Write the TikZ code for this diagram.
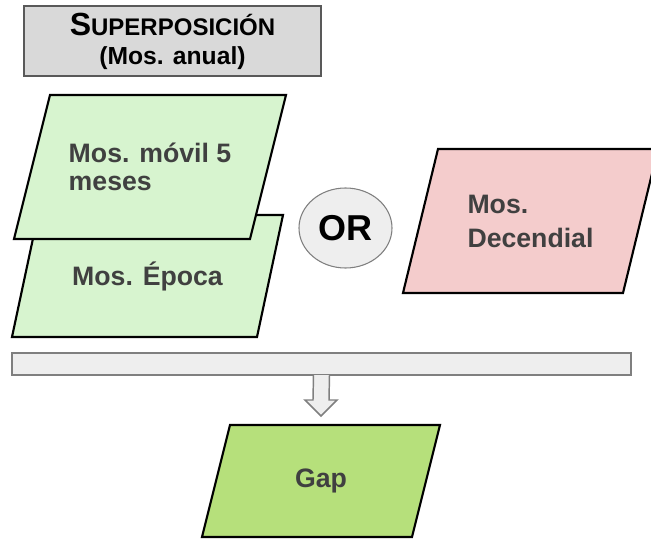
\documentclass[tikz,border=0pt]{standalone}
\usepackage{fontspec}
\setmainfont{Liberation Sans}
\usetikzlibrary{shapes.geometric,backgrounds}
\definecolor{titlegray}{HTML}{D9D9D9}
\definecolor{bargray}{HTML}{EEEEEE}
\definecolor{edgegray}{HTML}{7F7F7F}
\definecolor{txtgray}{HTML}{404040}
\definecolor{lightgreen}{HTML}{D7F4CF}
\definecolor{gapgreen}{HTML}{B6E07B}
\definecolor{lightpink}{HTML}{F4CCCC}
\tikzset{
    parabox/.style={rectangle, outer sep=0pt, inner sep=0pt, text=txtgray, align=left,
        font=\bfseries\fontsize{20}{21.5}\selectfont},
    paraline/.style={draw=black, line width=1.6pt, line join=miter},
    blockarrow/.style={draw=edgegray, fill=bargray, line width=1.1pt, line join=miter}
}
% parallelogram round a named box: name, slant, fill
\newcommand\ParaFrame[3]{
    \draw[paraline, fill=#3] ([xshift=#2]#1.north west) -- (#1.north east)
        -- ([xshift=-#2]#1.south east) -- (#1.south west) -- cycle;
}
\begin{document}
\begin{tikzpicture}[x=0.75pt, y=-0.75pt]
    \useasboundingbox (0,0) rectangle (651,539);
    % title box
    \node (title) [draw=black!65, fill=titlegray, line width=1.5pt, outer sep=0pt,
        minimum width=222.75pt, minimum height=52.5pt, align=center, font=\bfseries]
        at (172.5,41)
        {{\fontsize{24}{24}\selectfont S}{\fontsize{18}{18}\selectfont UPERPOSICIÓN}\\[7pt]
         {\fontsize{18.5}{18.5}\selectfont (Mos. anual)}};
    % stacked inputs
    \node (epoca) [parabox, minimum width=203.25pt, minimum height=91.5pt]
        at (147.5,276) {Mos. Época};
    \node (movil) [parabox, minimum width=204pt, minimum height=108pt]
        at (150,167) {Mos. móvil 5\\meses};
    \node (or) [ellipse, draw=edgegray, fill=bargray, line width=0.8pt,
        minimum width=69.75pt, minimum height=60pt, inner sep=0pt,
        font=\bfseries\fontsize{27}{27}\selectfont] at (345.5,228) {OR};
    \node (decendial) [parabox, minimum width=191.25pt, minimum height=108pt,
        font=\bfseries\fontsize{20}{25.5}\selectfont] at (530.5,221) {Mos.\\Decendial};
    % merge bar and result
    \node (bar) [draw=edgegray, fill=bargray, line width=1.1pt, outer sep=0pt,
        minimum width=464.25pt, minimum height=16.5pt] at (321.5,364) {};
    \node (gap) [parabox, minimum width=178.5pt, minimum height=84pt]
        at (321,481) {Gap};
    \begin{pgfonlayer}{background}
        \ParaFrame{epoca}{19.5pt}{lightgreen}
        \ParaFrame{movil}{27pt}{lightgreen}
        \ParaFrame{decendial}{26.25pt}{lightpink}
        \ParaFrame{gap}{21pt}{gapgreen}
    \end{pgfonlayer}
    \filldraw[blockarrow] ([xshift=-6pt]bar.south)
        -- ([xshift=-6pt,yshift=18.75pt]gap.north)
        -- ([xshift=-12pt,yshift=18.75pt]gap.north)
        -- ([yshift=6.75pt]gap.north)
        -- ([xshift=12pt,yshift=18.75pt]gap.north)
        -- ([xshift=6pt,yshift=18.75pt]gap.north)
        -- ([xshift=6pt]bar.south);
\end{tikzpicture}
\end{document}
